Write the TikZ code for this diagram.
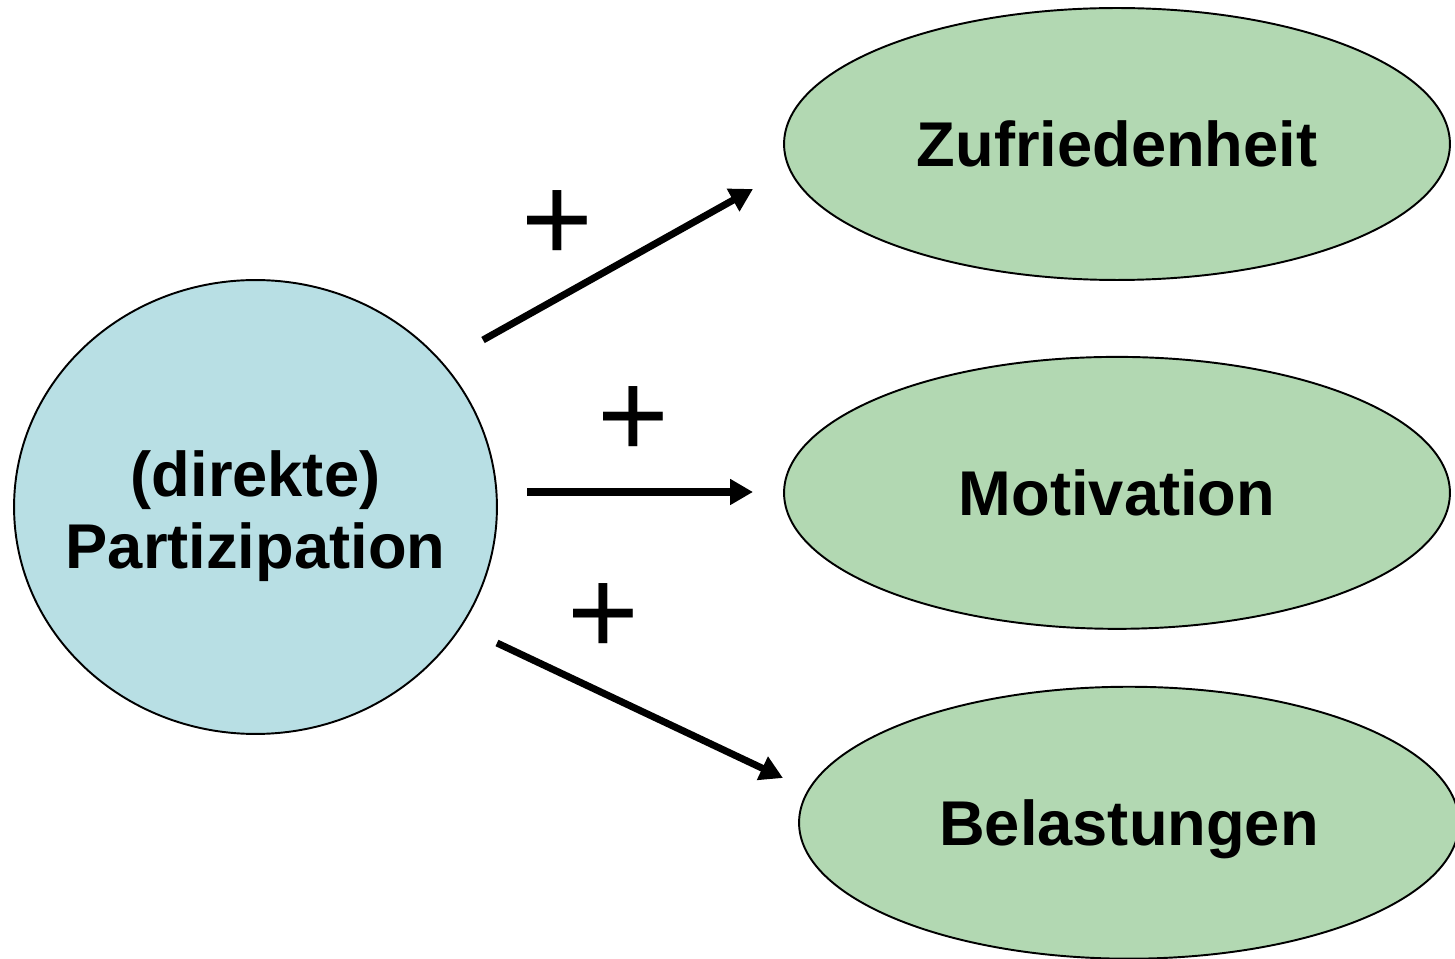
\documentclass[tikz,border=0pt]{standalone}
\usepackage{fontspec}
\setmainfont{Liberation Sans}
\usetikzlibrary{shapes.geometric, arrows.meta, positioning}

\definecolor{partblue}{RGB}{184,223,228}
\definecolor{effgreen}{RGB}{178,216,178}

\begin{document}
\begin{tikzpicture}[
        x=0.02cm, y=-0.02cm,
        node distance=1.5cm,
        cause/.style={ellipse, draw, line width=1.1pt, fill=partblue, minimum width=9.66cm, minimum height=9.08cm, inner sep=0pt},
        causetext/.style={align=center, inner sep=0pt, font=\fontsize{36}{41}\selectfont\bfseries},
        effect/.style={ellipse, draw, line width=1.1pt, fill=effgreen, minimum width=13.32cm, minimum height=5.44cm, inner sep=0pt, text depth=0pt, font=\fontsize{36}{41}\selectfont\bfseries},
        plussign/.style={inner sep=0pt, font=\fontsize{70}{70}\selectfont},
        arrow/.style={line width=4pt, -{Triangle[length=13pt,width=14pt]}}
    ]
        \useasboundingbox (0,0) rectangle (1455,959);

        \node[cause] (part) at (255.5,507) {};
        \node[causetext] (parttext) at (255.5,516) {(direkte)\\Partizipation};
        \node[effect] (zuf) at (1117,144) {Zufriedenheit};
        \node[effect, below=1.5cm of zuf] (mot) {Motivation};
        \node[effect, below=1.12cm of mot, xshift=0.24cm, minimum width=13.2cm] (bel) {Belastungen};

        \coordinate (zstart) at (483,340);
        \coordinate (zend) at (753,189);
        \coordinate (mstart) at (527,492);
        \coordinate (mend) at (753,492);
        \coordinate (bstart) at (497,643);
        \coordinate (bend) at (783,778);

        \draw[arrow] (zstart) -- (zend);
        \draw[arrow] (mstart) -- (mend);
        \draw[arrow] (bstart) -- (bend);

        \node[plussign] (pz) at (557,226) {+};
        \node[plussign] (pm) at (633,422) {+};
        \node[plussign] (pb) at (603,619) {+};
    \end{tikzpicture}
\end{document}
